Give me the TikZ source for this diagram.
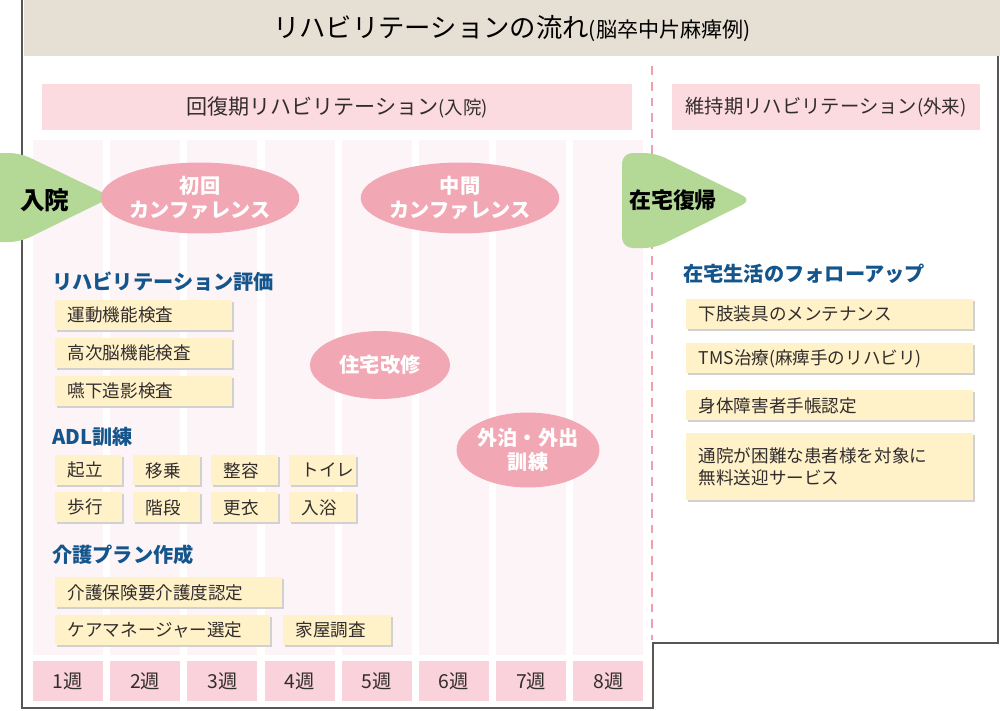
\documentclass[tikz,border=0pt]{standalone}
\usepackage{fontspec}
\setmainfont{Noto Sans CJK JP}
\usetikzlibrary{shadows,shapes.geometric}
\definecolor{beige}{RGB}{230,224,212}
\definecolor{hdpink}{RGB}{251,218,224}
\definecolor{colpink}{RGB}{253,244,247}
\definecolor{wkpink}{RGB}{250,210,220}
\definecolor{elpink}{RGB}{242,168,180}
\definecolor{grn}{RGB}{180,216,150}
\definecolor{ylw}{RGB}{255,241,200}
\definecolor{ttl}{RGB}{20,85,140}
\definecolor{frm}{RGB}{90,85,85}
\definecolor{txt}{RGB}{50,45,45}
\definecolor{dashpink}{RGB}{238,160,175}
\tikzset{
 ybox/.style={fill=ylw,draw=none,text=txt,font=\fontsize{10pt}{12.5pt}\selectfont,drop shadow={shadow xshift=0.04cm,shadow yshift=-0.04cm,fill=black!18,opacity=1},anchor=north west,inner sep=0pt,text width=#1,minimum height=0.6cm,align=left},
 sec/.style={text=ttl,font=\fontsize{11.5pt}{13pt}\selectfont\bfseries,anchor=west,inner sep=0pt},
 ell/.style={ellipse,fill=elpink,text=white,font=\fontsize{11.5pt}{13.5pt}\selectfont\bfseries,align=center,inner sep=0pt},
 wk/.style={fill=wkpink,text=txt,font=\fontsize{11pt}{12pt}\selectfont,minimum width=1.4cm,minimum height=0.8cm,inner sep=0pt},
}
\begin{document}
\begin{tikzpicture}[x=0.02cm,y=-0.02cm]
\useasboundingbox (0,0) rectangle (1000,710);
% title bar
\fill[beige] (24,0) rectangle (1000,56);
\node (title) at (512,28) {\fontsize{15pt}{17pt}\selectfont リハビリテーションの流れ\fontsize{12pt}{14pt}\selectfont (脳卒中片麻痺例)};
% frame
\draw[frm,line width=0.8pt] (22,0) -- (22,708) -- (653,708) -- (653,643) -- (998,643) -- (998,56);
% columns
\foreach \i in {0,...,7}{
  \fill[colpink] (33+\i*77.2,140) rectangle (103+\i*77.2,655);
  \node[wk] (w\i) at (68+\i*77.2,681) {\the\numexpr\i+1\relax 週};
}
% headers
\node[fill=hdpink,minimum width=11.8cm,minimum height=0.94cm,inner sep=0pt,text=txt,font=\fontsize{12pt}{14pt}\selectfont] (h1) at (337,107) {回復期リハビリテーション\fontsize{10.5pt}{12pt}\selectfont (入院)};
\node[fill=hdpink,minimum width=6.16cm,minimum height=0.94cm,inner sep=0pt,text=txt,font=\fontsize{11pt}{14pt}\selectfont] (h2) at (826,107) {維持期リハビリテーション\fontsize{10.5pt}{12pt}\selectfont(外来)};
\draw[dashpink,line width=1.3pt,dash pattern=on 5pt off 4pt] (652,66) -- (652,640);
% arrows
\fill[grn,rounded corners=6pt] (-10,153) -- (20,153) -- (112,197) -- (20,242) -- (-10,242) -- cycle;
\node[font=\fontsize{14pt}{16pt}\selectfont\bfseries,text=black] (nyuin) at (45,200) {入院};
\fill[grn,rounded corners=6pt] (622,153) -- (655,153) -- (752,200) -- (655,248) -- (622,248) -- cycle;
\node[font=\fontsize{12.5pt}{16pt}\selectfont\bfseries,text=black] (zaitaku) at (673,200) {在宅復帰};
% ellipses
\node[ell,minimum width=3.2cm,minimum height=1.42cm] (e1) at (200,198) {初回\\カンファレンス};
\node[ell,minimum width=2.9cm,minimum height=1.42cm] (e2) at (460,198) {中間\\カンファレンス};
\node[ell,minimum width=2.8cm,minimum height=1.36cm] (e3) at (380,365) {住宅改修};
\node[ell,minimum width=2.8cm,minimum height=1.5cm] (e4) at (528,450) {外泊・外出\\訓練};
% sections
\node[sec] (s1) at (52,282) {リハビリテーション評価};
\node[ybox=3.54cm] (a1) at (55,300) {\hspace{0.25cm}運動機能検査};
\node[ybox=3.54cm] (a2) at (55,338) {\hspace{0.25cm}高次脳機能検査};
\node[ybox=3.54cm] (a3) at (55,376) {\hspace{0.25cm}嚥下造影検査};
\node[sec] (s2) at (52,437) {ADL訓練};
\foreach \t [count=\k from 0] in {起立,移乗,整容,トイレ}{
  \node[ybox=1.34cm] (b\k) at (55+\k*78,455) {\hspace{0.25cm}\t};}
\foreach \t [count=\k from 0] in {歩行,階段,更衣,入浴}{
  \node[ybox=1.34cm] (c\k) at (55+\k*78,492) {\hspace{0.25cm}\t};}
\node[sec] (s3) at (52,555) {介護プラン作成};
\node[ybox=4.54cm] (d1) at (55,577) {\hspace{0.25cm}介護保険要介護度認定};
\node[ybox=4.3cm] (d2) at (55,615) {\hspace{0.25cm}ケアマネージャー選定};
\node[ybox=2.16cm] (d3) at (283,615) {\hspace{0.25cm}家屋調査};
\node[sec] (s4) at (683,274) {在宅生活のフォローアップ};
\node[ybox=5.74cm] (f1) at (686,299) {\hspace{0.25cm}下肢装具のメンテナンス};
\node[ybox=5.74cm] (f2) at (686,343) {\hspace{0.25cm}TMS治療(麻痺手のリハビリ)};
\node[ybox=5.74cm] (f3) at (686,390) {\hspace{0.25cm}身体障害者手帳認定};
\node[ybox=5.74cm,minimum height=1.34cm] (f4) at (686,433) {\hspace{0.25cm}通院が困難な患者様を対象に\\\hspace{0.25cm}無料送迎サービス};
\end{tikzpicture}
\end{document}
